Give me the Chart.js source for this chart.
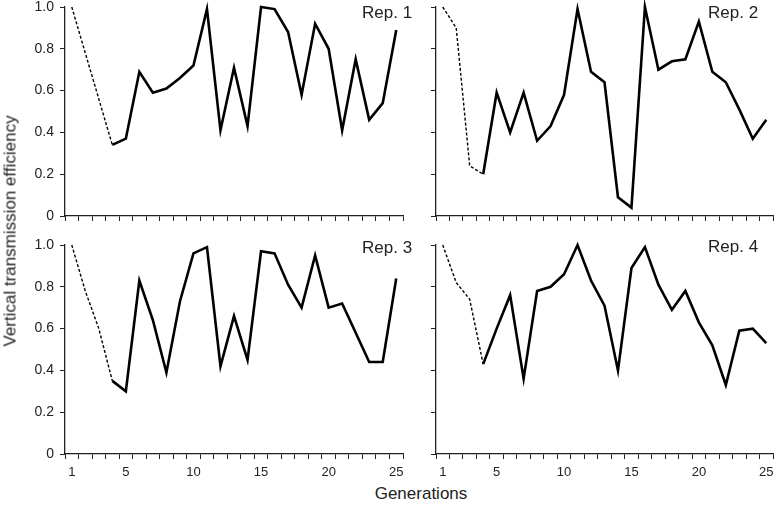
<!DOCTYPE html>
<html>
<head>
<meta charset="utf-8">
<script src="https://cdn.jsdelivr.net/npm/chart.js@4/dist/chart.umd.min.js"></script>
<style>
  body { margin: 0; background: #fff; }
  #wrap { position: relative; width: 776px; height: 507px; overflow: hidden; font-family: "Liberation Sans", Arial, sans-serif; color: #222; }
  canvas { position: absolute; }
  .lbl { position: absolute; font-size: 17px; white-space: nowrap; line-height: 1; }
</style>
</head>
<body>
<div id="wrap">
  <canvas id="rep1"></canvas>
  <canvas id="rep2"></canvas>
  <canvas id="rep3"></canvas>
  <canvas id="rep4"></canvas>
  <div class="lbl" style="left:362px; top:4px;">Rep. 1</div>
  <div class="lbl" style="left:708px; top:4px;">Rep. 2</div>
  <div class="lbl" style="left:362px; top:239px;">Rep. 3</div>
  <div class="lbl" style="left:708px; top:238px;">Rep. 4</div>
  <div class="lbl" style="left:10px; top:231px; transform: translate(-50%, -50%) rotate(-90deg);">Vertical transmission efficiency</div>
  <div class="lbl" style="left:421px; top:485px; transform: translateX(-50%);">Generations</div>
</div>
<script>
// generations on the x axis
const generations = [1, 2, 3, 4, 5, 6, 7, 8, 9, 10, 11, 12, 13, 14, 15, 16, 17, 18, 19, 20, 21, 22, 23, 24, 25];
const xLabels = [1, 5, 10, 15, 20, 25];
const yTicks = [0, 0.2, 0.4, 0.6, 0.8, 1.0];
// first generations drawn dashed
const dashedUntil = 4;

const rep1 = [1.0, 0.78, 0.56, 0.34, 0.37, 0.69, 0.59, 0.61, 0.66, 0.72, 0.99, 0.41, 0.71, 0.43, 1.0, 0.99, 0.88, 0.58, 0.92, 0.80, 0.41, 0.75, 0.46, 0.54, 0.89];
const rep2 = [1.0, 0.90, 0.24, 0.20, 0.59, 0.40, 0.59, 0.36, 0.43, 0.58, 0.99, 0.69, 0.64, 0.09, 0.04, 1.0, 0.70, 0.74, 0.75, 0.93, 0.69, 0.64, 0.51, 0.37, 0.46];
const rep3 = [1.0, 0.78, 0.60, 0.35, 0.30, 0.83, 0.64, 0.39, 0.73, 0.96, 0.99, 0.42, 0.66, 0.45, 0.97, 0.96, 0.81, 0.70, 0.95, 0.70, 0.72, 0.58, 0.44, 0.44, 0.84];
const rep4 = [1.0, 0.82, 0.74, 0.43, 0.60, 0.76, 0.36, 0.78, 0.80, 0.86, 1.0, 0.83, 0.71, 0.40, 0.89, 0.99, 0.81, 0.69, 0.78, 0.63, 0.52, 0.33, 0.59, 0.60, 0.53];

const axisColor = '#222';
const fontFamily = '"Liberation Sans", Arial, sans-serif';

function makePanel(id, values, box) {
    const cv = document.getElementById(id);
    cv.style.left = box.left + 'px';
    cv.style.top = box.top + 'px';
    cv.style.width = box.width + 'px';
    cv.style.height = box.height + 'px';
    cv.width = box.width;
    cv.height = box.height;

    const points = generations.map((g, i) => ({ x: g, y: values[i] }));

    return new Chart(cv.getContext('2d'), {
        type: 'line',
        data: {
            datasets: [
                {
                    data: points.slice(0, dashedUntil),
                    borderColor: '#000',
                    borderWidth: 1.4,
                    borderDash: [3, 2],
                    pointRadius: 0,
                    tension: 0,
                    clip: false
                },
                {
                    data: points.slice(dashedUntil - 1),
                    borderColor: '#000',
                    borderWidth: 2.6,
                    pointRadius: 0,
                    tension: 0,
                    clip: false
                }
            ]
        },
        options: {
            responsive: false,
            animation: false,
            events: [],
            layout: { padding: { top: box.padTop, right: 3, left: 0, bottom: 0 } },
            plugins: { legend: { display: false }, tooltip: { enabled: false } },
            scales: {
                x: {
                    type: 'linear',
                    min: 0.5,
                    max: 25.5,
                    afterBuildTicks: (scale) => {
                        // tick marks sit between generations
                        scale.ticks = generations.map(g => ({ value: g - 0.5 })).concat([{ value: 25.5 }]);
                    },
                    afterFit: (scale) => { scale.height = box.xHeight; },
                    grid: { drawOnChartArea: false, drawTicks: true, tickLength: 5, color: axisColor, lineWidth: 1 },
                    border: { color: axisColor, width: 1.3 },
                    ticks: {
                        display: box.showX,
                        autoSkip: false,
                        maxRotation: 0,
                        labelOffset: 6.76,
                        padding: 6,
                        color: '#222',
                        font: { family: fontFamily, size: 13 },
                        callback: (v) => xLabels.includes(v + 0.5) ? String(v + 0.5) : ''
                    }
                },
                y: {
                    min: 0,
                    max: 1,
                    afterBuildTicks: (scale) => { scale.ticks = yTicks.map(v => ({ value: v })); },
                    afterFit: (scale) => { scale.width = box.yWidth; },
                    grid: { drawOnChartArea: false, drawTicks: true, tickLength: 5, color: axisColor, lineWidth: 1 },
                    border: { color: axisColor, width: 1.3 },
                    ticks: {
                        display: box.showY,
                        padding: 6,
                        color: '#222',
                        font: { family: fontFamily, size: 14 },
                        callback: (v) => v === 0 ? '0' : v.toFixed(1)
                    }
                }
            }
        }
    });
}

makePanel('rep1', rep1, { left: 0, top: -12, width: 406, height: 244, padTop: 19, xHeight: 16, yWidth: 65, showX: false, showY: true });
makePanel('rep2', rep2, { left: 406, top: -12, width: 370, height: 244, padTop: 19, xHeight: 16, yWidth: 30, showX: false, showY: false });
makePanel('rep3', rep3, { left: 0, top: 228, width: 409, height: 256, padTop: 17, xHeight: 30, yWidth: 65, showX: true, showY: true });
makePanel('rep4', rep4, { left: 406, top: 228, width: 373, height: 256, padTop: 17, xHeight: 30, yWidth: 30, showX: true, showY: false });
</script>
</body>
</html>
